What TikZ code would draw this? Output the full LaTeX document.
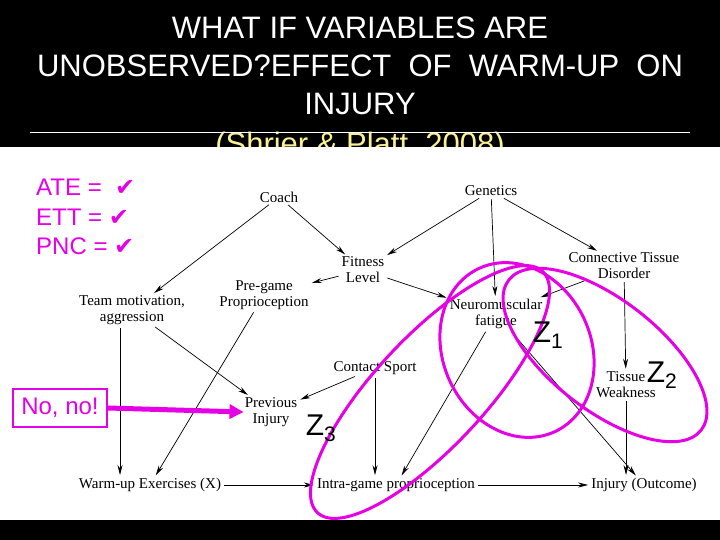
\documentclass[tikz,border=0pt]{standalone}
\usepackage{fontspec}
\setmainfont{Liberation Serif}
\newfontfamily\arial{Liberation Sans}
\newfontfamily\dvs{DejaVu Sans}
\usetikzlibrary{arrows.meta}
\definecolor{mag}{RGB}{230,0,230}
\definecolor{ylw}{RGB}{250,240,150}
\tikzset{lab/.style={font=\fontsize{15}{16}\selectfont, align=center, inner sep=1pt},
 ar/.style={-{Stealth[length=10pt,width=5pt]}, line width=0.7pt, shorten >=2pt, shorten <=2pt},
 zl/.style={font=\arial\fontsize{30}{30}\selectfont, inner sep=0pt},
 ring/.style={draw=mag, line width=3pt},
 mt/.style={font=\arial\fontsize{24}{26}\selectfont, text=mag, inner sep=0pt, anchor=west}}
\begin{document}
\begin{tikzpicture}[x=1pt,y=-1pt]
\useasboundingbox (0,0) rectangle (720,540);
\fill[black] (0,0) rectangle (720,540);
\node[font=\arial\fontsize{31}{38}\selectfont, text=ylw] (cit) at (360,146) {(Shrier \& Platt, 2008)};
\fill[white] (0,147) rectangle (720,520);
\draw[white, line width=1pt] (30,133) -- (690,133);
\node[font=\arial\fontsize{31}{38}\selectfont, text=white, align=center] (title) at (360,66) {WHAT IF VARIABLES ARE\\UNOBSERVED?EFFECT\ \ OF\ \ WARM-UP\ \ ON\\INJURY};
% nodes
\node[lab] (coach) at (279,197) {Coach};
\node[lab] (gen) at (491,191) {Genetics};
\node[lab] (fit) at (363,270) {Fitness\\Level};
\node[lab] (ctd) at (624,266) {Connective Tissue\\Disorder};
\node[lab] (pre) at (264,295) {Pre-game\\Proprioception};
\node[lab] (team) at (132,310) {Team motivation,\\aggression};
\node[lab] (nm) at (496,314) {Neuromuscular\\fatigue};
\node[lab] (cs) at (375,368) {Contact Sport};
\node[lab] (tw) at (626,385) {Tissue\\Weakness};
\node[lab] (pi) at (271,412) {Previous\\Injury};
\node[lab] (wu) at (150,485) {Warm-up Exercises (X)};
\node[lab] (ig) at (396,485) {Intra-game proprioception};
\node[lab] (inj) at (644,485) {Injury (Outcome)};
% edges
\draw[ar] (coach) -- (team);
\draw[ar] (coach) -- (fit);
\draw[ar] (gen) -- (fit);
\draw[ar] (gen) -- (nm);
\draw[ar] (gen) -- (ctd);
\draw[ar] (fit) -- (pre);
\draw[ar] (fit) -- (nm);
\draw[ar] (ctd) -- (nm);
\draw[ar] (ctd) -- (tw);
\draw[ar] (team.south -| 120,0) -- (wu.north -| 120,0);
\draw[ar] (team) -- (pi);
\draw[ar] (pre) -- (wu);
\draw[ar] (cs) -- (pi);
\draw[ar] (cs) -- (ig.north -| cs);
\draw[ar] (nm) -- (ig);
\draw[ar] (nm) -- (inj);
\draw[ar] (tw) -- (inj.north -| tw);
\draw[ar] (wu) -- (ig);
\draw[ar] (ig) -- (inj);
% ellipses
\draw[ring] (517,350) ellipse[x radius=90, y radius=74, rotate=-65];
\draw[ring] (605,355) ellipse[x radius=122, y radius=55, rotate=-38];
\draw[ring] (430,392) ellipse[x radius=165, y radius=55, rotate=47];
\node[zl] (z1) at (548,335) {Z\textsubscript{1}};
\node[zl] (z2) at (662,375) {Z\textsubscript{2}};
\node[zl] (z3) at (321,428) {Z\textsubscript{3}};
% magenta text
\node[mt] (ate) at (36,187) {ATE =\ \ {\dvs ✔}};
\node[mt] (ett) at (36,217) {ETT = {\dvs ✔}};
\node[mt] (pnc) at (36,246) {PNC = {\dvs ✔}};
\node[draw=mag, line width=2pt, text=mag, font=\arial\fontsize{24}{26}\selectfont, minimum width=94pt, minimum height=38pt] (no) at (60,408) {No, no!};
\draw[mag, line width=5pt, -{Triangle[length=14pt,width=14pt]}] (no.east) -- (pi.west);
\end{tikzpicture}
\end{document}
